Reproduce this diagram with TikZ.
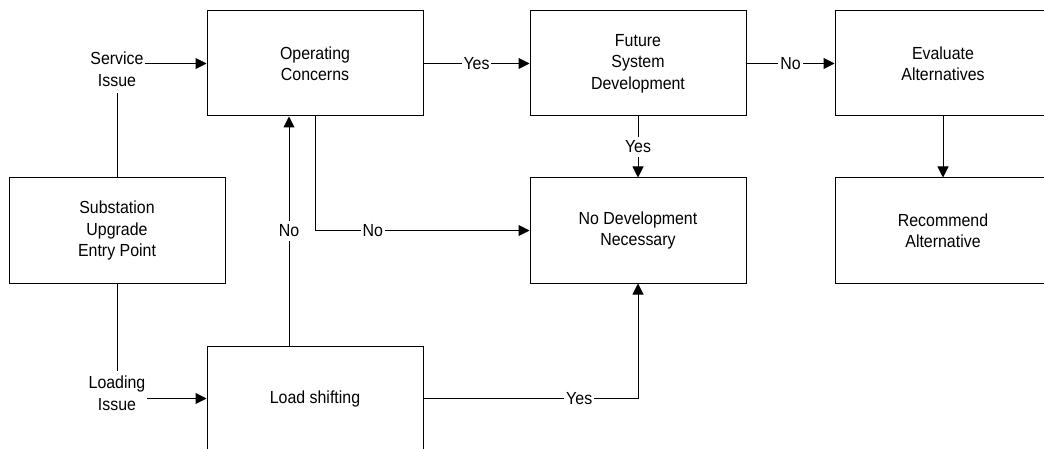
\documentclass[tikz,border=0pt]{standalone}
\usepackage{fontspec}
\setmainfont[FakeStretch=0.91]{Liberation Sans}
\usetikzlibrary{arrows.meta}
\begin{document}
\begin{tikzpicture}[x=1pt,y=-1pt,line width=1pt,
  font=\fontsize{17.5}{21.5}\selectfont,
  box/.style={draw,rectangle,minimum width=216pt,minimum height=105pt,align=center,inner sep=0pt},
  arr/.style={-{Triangle[length=11pt,width=11pt]}},
  lbl/.style={fill=white,inner xsep=2pt,inner ysep=4pt},
  side/.style={align=center,inner xsep=1pt,inner ysep=6pt}]
\useasboundingbox (0,0) rectangle (1044,449);
\clip (0,0) rectangle (1044,449);
\node[box] (op) at (315,63.5) {Operating\\Concerns};
\node[box] (fut) at (638,63.5) {Future\\System\\Development};
\node[box] (eva) at (943,63.5) {Evaluate\\Alternatives};
\node[box] (nodev) at (638,230.5) {No Development\\Necessary};
\node[box] (rec) at (943,230.5) {Recommend\\Alternative};
\node[box] (sub) at (117,230.5) {Substation\\Upgrade\\Entry Point};
\node[box] (load) at (315,398.5) {Load shifting};
\node[side] (svc) at (117,69) {Service\\Issue};
\node[side,inner ysep=4pt] (ldi) at (117,393) {Loading\\Issue};
\draw (sub.north) -- (svc.south);
\draw (sub.south) -- (ldi.north);
\draw[arr] (svc.east |- op.west) -- (op.west);
\draw[arr] (ldi.east |- load.west) -- (load.west);
\draw[arr] (op.east) -- node[lbl]{Yes} (fut.west);
\draw[arr] (fut.east) -- node[lbl]{No} (eva.west);
\draw[arr] (fut.south) -- node[lbl]{Yes} (nodev.north);
\draw[arr] (eva.south) -- (rec.north);
\draw[arr] ([xshift=-26pt]load.north) -- node[lbl]{No} ([xshift=-26pt]op.south);
\draw[arr] (op.south) |- node[lbl,pos=0.635]{No} (nodev.west);
\draw[arr] (load.east) -| node[lbl,pos=0.363]{Yes} (nodev.south);
\end{tikzpicture}
\end{document}
